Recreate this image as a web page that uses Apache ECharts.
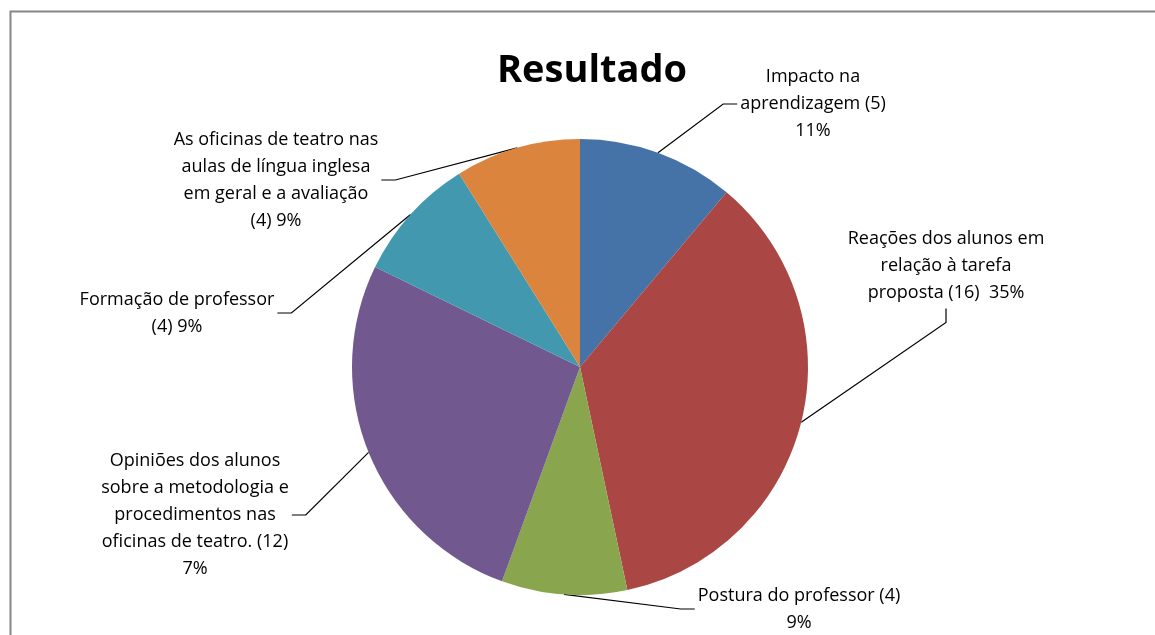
<!DOCTYPE html>
<html>
<head>
<meta charset="utf-8">
<script src="https://cdn.jsdelivr.net/npm/echarts@6/dist/echarts.min.js"></script>
<style>
  html, body { margin: 0; padding: 0; background: #fff; }
  #chart { width: 1155px; height: 635px; }
</style>
</head>
<body>
<div id="chart"></div>
<script>
const categories = [
  'Impacto na aprendizagem',
  'Reações dos alunos em relação à tarefa proposta',
  'Postura do professor',
  'Opiniões dos alunos sobre a metodologia e procedimentos nas oficinas de teatro.',
  'Formação de professor',
  'As oficinas de teatro nas aulas de língua inglesa em geral e a avaliação'
];
const counts = [5, 16, 4, 12, 4, 4];
const labelTexts = [
  'Impacto na\naprendizagem (5)\n11%',
  'Reações dos alunos em\nrelação à tarefa\nproposta (16)  35%',
  'Postura do professor (4)\n9%',
  'Opiniões dos alunos\nsobre a metodologia e\nprocedimentos nas\noficinas de teatro. (12)\n7%',
  'Formação de professor\n(4) 9%',
  'As oficinas de teatro nas\naulas de língua inglesa\nem geral e a avaliação\n(4) 9%'
];
const colors = ['#4572A7', '#AA4643', '#89A54E', '#71588F', '#4198AF', '#DB843D'];

// where each label block sits, and which side its leader line leaves from
const labelSpots = [
  { x: 813, y: 104, side: 'left' },
  { x: 946, y: 266, side: 'bottom' },
  { x: 799, y: 609, side: 'left' },
  { x: 195, y: 515, side: 'right' },
  { x: 177, y: 313, side: 'right' },
  { x: 276, y: 180, side: 'right' }
];

const chart = echarts.init(document.getElementById('chart'));

chart.setOption({
  animation: false,
  backgroundColor: '#fff',
  color: colors,
  title: {
    text: 'Resultado',
    left: 587,
    top: 47,
    textAlign: 'center',
    textStyle: {
      fontFamily: 'Open Sans',
      fontWeight: 'bold',
      fontSize: 38,
      color: '#000'
    }
  },
  graphic: [
    {
      type: 'rect',
      left: 8,
      top: 9,
      shape: { width: 1300, height: 800 },
      style: { fill: 'none', stroke: '#868686', lineWidth: 2 },
      silent: true
    }
  ],
  series: [
    {
      type: 'pie',
      center: [580, 367],
      radius: 228,
      startAngle: 90,
      clockwise: true,
      data: categories.map((name, i) => ({ name, value: counts[i] })),
      itemStyle: { borderWidth: 0 },
      label: {
        show: true,
        position: 'outside',
        formatter: (p) => labelTexts[p.dataIndex],
        fontFamily: 'Open Sans',
        fontSize: 18,
        lineHeight: 27,
        color: '#000'
      },
      labelLine: {
        show: true,
        length: 10,
        length2: 10,
        lineStyle: { color: '#000', width: 1.2 }
      },
      labelLayout: (params) => {
        const spot = labelSpots[params.dataIndex];
        const w = params.labelRect.width;
        const h = params.labelRect.height;
        const start = params.labelLinePoints[0];
        let end;
        let elbow;
        if (spot.side === 'left') {
          end = [spot.x - w / 2 - 3, spot.y];
          elbow = [end[0] - 14, end[1]];
        } else if (spot.side === 'right') {
          end = [spot.x + w / 2 + 3, spot.y];
          elbow = [end[0] + 14, end[1]];
        } else {
          end = [spot.x, spot.y + h / 2 + 2];
          elbow = [end[0], end[1] + 14];
        }
        return {
          x: spot.x,
          y: spot.y,
          align: 'center',
          verticalAlign: 'middle',
          labelLinePoints: [start, elbow, end]
        };
      }
    }
  ]
});

window.addEventListener('resize', () => {
  chart.resize();
});
</script>
</body>
</html>
